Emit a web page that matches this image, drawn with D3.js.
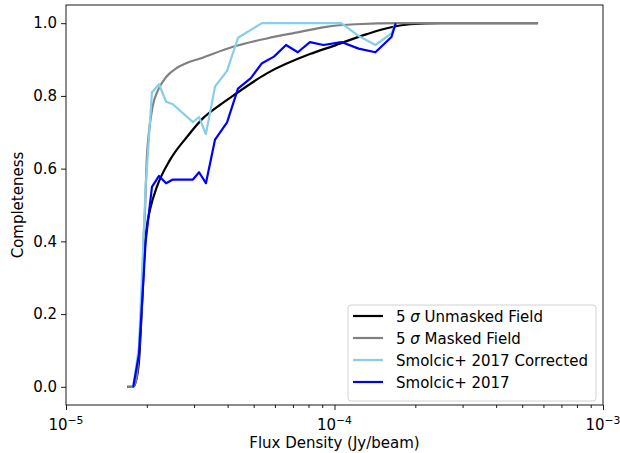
<!DOCTYPE html>
<html>
<head>
<meta charset="utf-8">
<script src="https://cdn.jsdelivr.net/npm/d3@7"></script>
<style>
  body { margin: 0; background: #fff; }
  svg { font-family: "DejaVu Sans", sans-serif; }
</style>
</head>
<body>
<div class="canva"></div>
<script>
// flux (Jy/beam) vs completeness
const unmasked = [
  [1.69e-5, 0], [1.78e-5, 0], [1.84e-5, 0.03], [1.87e-5, 0.07], [1.90e-5, 0.16],
  [1.93e-5, 0.26], [1.96e-5, 0.37], [2.0e-5, 0.44], [2.06e-5, 0.49], [2.18e-5, 0.55],
  [2.44e-5, 0.624], [2.82e-5, 0.687], [3.24e-5, 0.739], [3.74e-5, 0.775], [4.18e-5, 0.80],
  [5.6e-5, 0.862], [8.1e-5, 0.915], [9.87e-5, 0.937], [1.32e-4, 0.970], [1.61e-4, 0.988],
  [1.91e-4, 0.997], [2.5e-4, 1.0], [5.73e-4, 1.0]
];
const masked = [
  [1.69e-5, 0], [1.76e-5, 0], [1.81e-5, 0.01], [1.85e-5, 0.055], [1.886e-5, 0.148],
  [1.92e-5, 0.25], [1.94e-5, 0.38], [1.97e-5, 0.49], [2.0e-5, 0.63], [2.03e-5, 0.69],
  [2.1e-5, 0.77], [2.2e-5, 0.815], [2.36e-5, 0.852], [2.6e-5, 0.878], [2.8e-5, 0.89],
  [3.16e-5, 0.903], [4.19e-5, 0.935], [5.6e-5, 0.958], [7.44e-5, 0.976], [9.3e-5, 0.99],
  [1.2e-4, 0.997], [1.75e-4, 1.0], [5.73e-4, 1.0]
];
const smolcicCorr = [
  [1.78e-5, 0], [1.87e-5, 0.11], [1.98e-5, 0.55], [2.09e-5, 0.81], [2.22e-5, 0.832],
  [2.36e-5, 0.784], [2.5e-5, 0.777], [2.97e-5, 0.728], [3.13e-5, 0.742], [3.32e-5, 0.695],
  [3.59e-5, 0.826], [3.98e-5, 0.869], [4.37e-5, 0.96], [5.37e-5, 1.0], [1.06e-4, 1.0],
  [1.23e-4, 0.965], [1.42e-4, 0.94], [1.63e-4, 0.972], [1.69e-4, 1.0]
];
const smolcic = [
  [1.78e-5, 0], [1.87e-5, 0.09], [1.98e-5, 0.40], [2.09e-5, 0.55], [2.22e-5, 0.58],
  [2.36e-5, 0.56], [2.5e-5, 0.57], [2.97e-5, 0.57], [3.13e-5, 0.59], [3.32e-5, 0.56],
  [3.59e-5, 0.68], [3.98e-5, 0.727], [4.37e-5, 0.82], [4.88e-5, 0.849], [5.37e-5, 0.89],
  [5.95e-5, 0.908], [6.6e-5, 0.94], [7.3e-5, 0.92], [8.1e-5, 0.948], [9.1e-5, 0.94],
  [1.06e-4, 0.948], [1.23e-4, 0.93], [1.42e-4, 0.92], [1.63e-4, 0.962], [1.69e-4, 1.0]
];
const yTicks = [0.0, 0.2, 0.4, 0.6, 0.8, 1.0];
const xTickExps = [-5, -4, -3];

const series = [
  {name: "Unmasked Field", data: unmasked, color: "black", smooth: true},
  {name: "Masked Field", data: masked, color: "gray", smooth: true},
  {name: "Smolcic+ 2017 Corrected", data: smolcicCorr, color: "skyblue", smooth: false},
  {name: "Smolcic+ 2017", data: smolcic, color: "blue", smooth: false}
];

const W = 620, H = 453;
const mLeft = 66, mRight = 603, mTop = 5, mBottom = 405;
const fs = 15;

const svg = d3.select('.canva').append('svg')
    .attr('width', W)
    .attr('height', H);

const x = d3.scaleLog().domain([1e-5, 1e-3]).range([mLeft, mRight]);
const y = d3.scaleLinear().domain([-0.05, 1.05]).range([mBottom, mTop]);

svg.append('defs').append('clipPath').attr('id', 'clip')
  .append('rect').attr('x', mLeft).attr('y', mTop)
  .attr('width', mRight - mLeft).attr('height', mBottom - mTop);

// lines
const g = svg.append('g').attr('clip-path', 'url(#clip)');
series.forEach(s => {
  const line = d3.line()
      .x(d => x(d[0]))
      .y(d => y(d[1]))
      .curve(s.smooth ? d3.curveMonotoneX : d3.curveLinear);
  g.append('path')
    .datum(s.data)
    .attr('d', line)
    .attr('fill', 'none')
    .attr('stroke', s.color)
    .attr('stroke-width', 2.2)
    .attr('stroke-linejoin', 'round');
});

// x axis: major decades + minor ticks
const minor = [];
[-5, -4].forEach(e => { for (let m = 2; m <= 9; m++) minor.push(m * Math.pow(10, e)); });
const xMinor = d3.axisBottom(x).tickValues(minor).tickSize(3).tickFormat('');
svg.append('g').attr('transform', `translate(0,${mBottom})`).call(xMinor)
  .call(a => a.select('.domain').remove());
const xMajor = d3.axisBottom(x).tickValues(xTickExps.map(e => Math.pow(10, e)))
  .tickSize(5).tickFormat('');
const xa = svg.append('g').attr('transform', `translate(0,${mBottom})`).call(xMajor);
xa.select('.domain').remove();
svg.selectAll('.tick line').attr('stroke', '#000').attr('stroke-width', 0.9);

xTickExps.forEach(e => {
  const t = svg.append('text')
    .attr('x', x(Math.pow(10, e)))
    .attr('y', mBottom + 25)
    .attr('text-anchor', 'middle')
    .attr('font-size', fs);
  t.append('tspan').text('10');
  t.append('tspan').attr('dy', -6.5).attr('font-size', fs * 0.72).text('\u2212' + Math.abs(e));
});

// y axis
const ya = svg.append('g').attr('transform', `translate(${mLeft},0)`)
  .call(d3.axisLeft(y).tickValues(yTicks).tickSize(5).tickPadding(4).tickFormat(d3.format('.1f')));
ya.select('.domain').remove();
ya.selectAll('.tick line').attr('stroke', '#000').attr('stroke-width', 0.9);
ya.selectAll('.tick text').attr('font-size', fs).attr('fill', '#000')
  .attr('font-family', '"DejaVu Sans", sans-serif');

// frame
svg.append('rect')
  .attr('x', mLeft).attr('y', mTop)
  .attr('width', mRight - mLeft).attr('height', mBottom - mTop)
  .attr('fill', 'none').attr('stroke', '#000').attr('stroke-width', 0.9);

// axis labels
svg.append('text')
  .attr('x', (mLeft + mRight) / 2).attr('y', 448)
  .attr('text-anchor', 'middle').attr('font-size', fs)
  .text('Flux Density (Jy/beam)');
svg.append('text')
  .attr('transform', `translate(23,${(mTop + mBottom) / 2}) rotate(-90)`)
  .attr('text-anchor', 'middle').attr('font-size', fs)
  .text('Completeness');

// legend
const lg = svg.append('g');
lg.append('rect')
  .attr('x', 348).attr('y', 305).attr('width', 248).attr('height', 96)
  .attr('rx', 3).attr('fill', 'white').attr('fill-opacity', 0.8)
  .attr('stroke', '#ccc').attr('stroke-width', 0.9);
series.forEach((s, i) => {
  const yy = 316 + i * 22;
  lg.append('line')
    .attr('x1', 353).attr('x2', 383).attr('y1', yy).attr('y2', yy)
    .attr('stroke', s.color).attr('stroke-width', 2.2);
  const t = lg.append('text').attr('x', 396).attr('y', yy + 5.5).attr('font-size', fs);
  if (i < 2) {
    t.append('tspan').text('5 ');
    t.append('tspan').attr('font-style', 'italic').text('\u03c3');
    t.append('tspan').text(' ' + s.name);
  } else {
    t.text(s.name);
  }
});
</script>
</body>
</html>
